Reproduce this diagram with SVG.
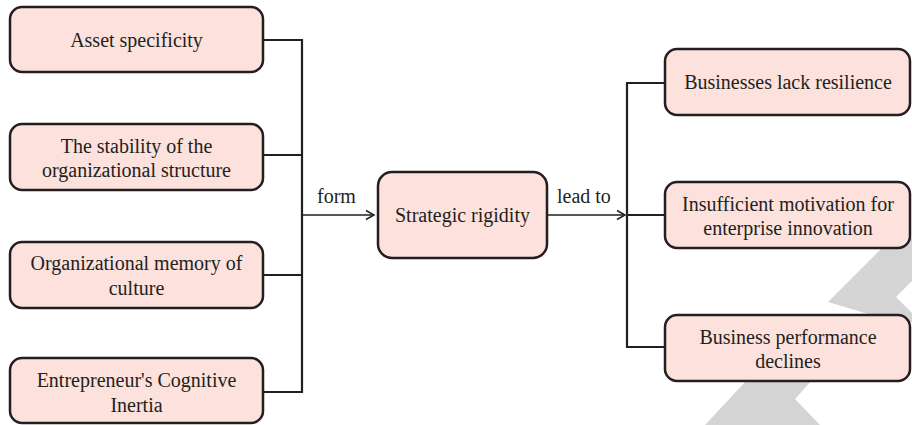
<svg xmlns="http://www.w3.org/2000/svg" width="912" height="425" viewBox="0 0 912 425">
<defs>
<style>
.box{fill:#FCE1DC;stroke:#231F20;stroke-width:2.5}
.t{font-family:"Liberation Serif","Times New Roman",serif;font-size:20px;fill:#231F20;text-anchor:middle}
.l{font-family:"Liberation Serif","Times New Roman",serif;font-size:20px;fill:#231F20}
.c{fill:none;stroke:#231F20;stroke-width:2.2}
.a{fill:none;stroke:#231F20;stroke-width:1.6}
.wm{fill:#D4D4D4}
</style>
<marker id="arr" markerWidth="12" markerHeight="12" refX="10" refY="6" orient="auto" markerUnits="userSpaceOnUse">
<path d="M2,1.5 L10,6 L2,10.5" fill="none" stroke="#231F20" stroke-width="1.5"/>
</marker>
</defs>
<rect width="912" height="425" fill="#fff"/>
<g id="watermark">
<polygon class="wm" points="828,302 892,238 912,238 912,281 896,297 912,313 912,322 895,322"/>
<polygon class="wm" points="705,425 775,350 839,350 795,399 820,425"/>
</g>
<g id="connectors">
<path class="c" d="M263,40 H302 M263,155 H302 M263,275 H302 M263,392 H302 M302,39 V393"/>
<path class="a" d="M302,215 H374" marker-end="url(#arr)"/>
<path class="a" d="M547,215 H625" marker-end="url(#arr)"/>
<path class="c" d="M627,82 V348 M627,83 H665 M627,215 H665 M627,347 H665"/>
<text class="l" x="317" y="203">form</text>
<text class="l" x="557" y="203">lead to</text>
</g>
<g id="asset">
<rect class="box" x="10" y="7" width="253" height="65" rx="12"/>
<text class="t" x="136.5" y="47">Asset specificity</text>
</g>
<g id="stability">
<rect class="box" x="10" y="124" width="253" height="66" rx="12"/>
<text class="t" x="136.5" y="152.5">The stability of the</text>
<text class="t" x="136.5" y="176.5">organizational structure</text>
</g>
<g id="memory">
<rect class="box" x="10" y="242" width="253" height="66" rx="12"/>
<text class="t" x="136.5" y="270">Organizational memory of</text>
<text class="t" x="136.5" y="295">culture</text>
</g>
<g id="inertia">
<rect class="box" x="10" y="358" width="253" height="65" rx="12"/>
<text class="t" x="136.5" y="387">Entrepreneur's Cognitive</text>
<text class="t" x="136.5" y="412">Inertia</text>
</g>
<g id="rigidity">
<rect class="box" x="378" y="172" width="169" height="86" rx="14"/>
<text class="t" x="462.5" y="222">Strategic rigidity</text>
</g>
<g id="resilience">
<rect class="box" x="665" y="49" width="245" height="66" rx="12"/>
<text class="t" x="788" y="89">Businesses lack resilience</text>
</g>
<g id="motivation">
<rect class="box" x="665" y="182" width="245" height="66" rx="12"/>
<text class="t" x="788" y="211">Insufficient motivation for</text>
<text class="t" x="788" y="235">enterprise innovation</text>
</g>
<g id="performance">
<rect class="box" x="665" y="315" width="245" height="66" rx="12"/>
<text class="t" x="788" y="344">Business performance</text>
<text class="t" x="788" y="368">declines</text>
</g>
</svg>
